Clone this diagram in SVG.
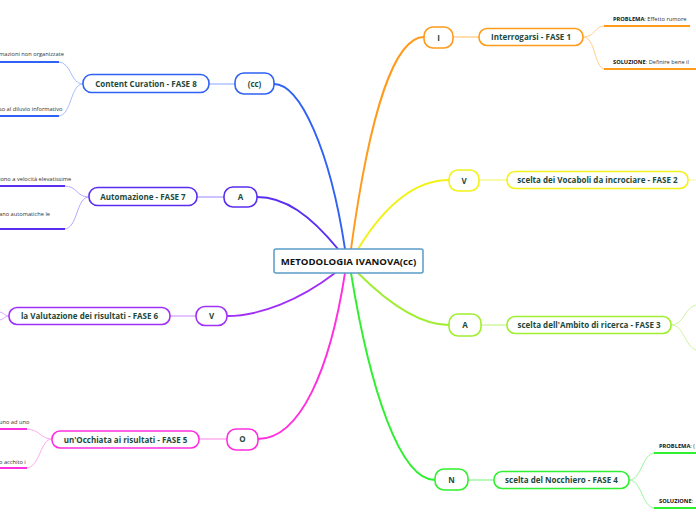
<svg xmlns="http://www.w3.org/2000/svg" width="696" height="520" viewBox="0 0 696 520">
<style>
text{font-family:"Open Sans","Noto Sans","Liberation Sans",sans-serif}
.n{fill:#fff;stroke-width:1.6}
.t{font-size:8px;font-weight:bold;fill:#1d4a3c;text-anchor:middle}
.c{font-size:9.6px;font-weight:bold;fill:#111;text-anchor:middle}
.l{font-size:5.7px;fill:#333}
.lb{font-weight:bold;fill:#111}
.m{fill:none;stroke-width:1.9}
.s{fill:none;stroke-width:1.4}
.f{fill:none;stroke-width:1}
.u{fill:none;stroke-width:2}
</style>
<rect width="696" height="520" fill="#fff"/>
<g id="connectors">
<path class="m" stroke="#2f62f5" d="M345,249 C330,150 300,84 274,84"/>
<path class="m" stroke="#ff9a1a" d="M351,249 C370,110 395,37 424,37"/>
<path class="m" stroke="#f2f21a" d="M358,249 C385,205 415,180 449,180"/>
<path class="m" stroke="#5a2ef0" d="M338,249 C310,215 285,197 257,197"/>
<path class="m" stroke="#a030f8" d="M335,273 C300,300 260,316 227,316"/>
<path class="m" stroke="#ff2ee0" d="M345,273 C330,370 300,439 258,439"/>
<path class="m" stroke="#2ef02e" d="M351,273 C370,390 400,480 435,480"/>
<path class="m" stroke="#a0ee30" d="M358,273 C390,305 420,325 449,325"/>
<line class="s" stroke="#a8c0ff" x1="209" y1="84" x2="235" y2="84"/>
<line class="s" stroke="#b8a8ff" x1="197" y1="197" x2="224" y2="197"/>
<line class="s" stroke="#dba8ff" x1="170" y1="316" x2="196" y2="316"/>
<line class="s" stroke="#ffa8f0" x1="199" y1="439" x2="227" y2="439"/>
<line class="s" stroke="#ffcf88" x1="453" y1="37" x2="479" y2="37"/>
<line class="s" stroke="#f8f888" x1="479" y1="180" x2="507" y2="180"/>
<line class="s" stroke="#cdf59a" x1="481" y1="325" x2="507" y2="325"/>
<line class="s" stroke="#9af59a" x1="468" y1="480" x2="494" y2="480"/>
<path class="f" stroke="#a8c0ff" d="M83,84 C70,84 72,62 58,62 M83,84 C70,84 72,116 58,116"/>
<path class="f" stroke="#b8a8ff" d="M89,197 C76,197 78,186 64,186 M89,197 C76,197 78,229 64,229"/>
<path class="f" stroke="#dba8ff" d="M9,316 C5,316 4,313 0,312 M9,316 C5,316 4,319 0,320"/>
<path class="f" stroke="#ffa8f0" d="M52,439 C40,439 40,429 26,429 M52,439 C40,439 40,468 26,468"/>
<path class="f" stroke="#ffcf88" d="M583,37 C596,37 594,26 605,26 M583,37 C596,37 594,69 605,69"/>
<path class="f" stroke="#f8f888" d="M688,180 L696,180"/>
<path class="f" stroke="#cdf59a" d="M671,325 C684,325 684,308 696,305 M671,325 C684,325 684,345 696,350"/>
<path class="f" stroke="#9af59a" d="M629,480 C642,480 642,453 655,453 M629,480 C642,480 642,508 655,508"/>
<line class="u" stroke="#2f62f5" x1="0" y1="62" x2="59" y2="62"/>
<line class="u" stroke="#2f62f5" x1="0" y1="116" x2="59" y2="116"/>
<line class="u" stroke="#5a2ef0" x1="0" y1="186" x2="65" y2="186"/>
<line class="u" stroke="#5a2ef0" x1="0" y1="229" x2="65" y2="229"/>
<line class="u" stroke="#ff2ee0" x1="0" y1="429" x2="27" y2="429"/>
<line class="u" stroke="#ff2ee0" x1="0" y1="468" x2="27" y2="468"/>
<line class="u" stroke="#ff9a1a" x1="604" y1="26" x2="690" y2="26"/>
<line class="u" stroke="#ff9a1a" x1="604" y1="69" x2="696" y2="69"/>
<line class="u" stroke="#2ef02e" x1="654" y1="453" x2="696" y2="453"/>
<line class="u" stroke="#2ef02e" x1="654" y1="508" x2="696" y2="508"/>
</g>
<g id="center">
<rect x="274" y="249" width="149" height="24" rx="2" fill="#fff" stroke="#5a9cc8" stroke-width="1.5"/>
<text class="c" x="348.5" y="264.5">METODOLOGIA IVANOVA(cc)</text>
</g>
<g id="n-cc"><rect class="n" stroke="#2f62f5" x="235" y="73" width="39" height="21" rx="9"/><text class="t" x="254.5" y="86.5">(cc)</text></g>
<g id="n-fase8"><rect class="n" stroke="#2f62f5" x="83" y="74.5" width="126" height="18" rx="8.5"/><text class="t" x="146" y="86.5">Content Curation - FASE 8</text></g>
<g id="n-a7"><rect class="n" stroke="#5a2ef0" x="224" y="187" width="33" height="20" rx="9"/><text class="t" x="240.5" y="200">A</text></g>
<g id="n-fase7"><rect class="n" stroke="#5a2ef0" x="89" y="187.5" width="108" height="18" rx="8.5"/><text class="t" x="143" y="199.5">Automazione - FASE 7</text></g>
<g id="n-v6"><rect class="n" stroke="#a030f8" x="196" y="306.5" width="31" height="19" rx="9"/><text class="t" x="211.5" y="319">V</text></g>
<g id="n-fase6"><rect class="n" stroke="#a030f8" x="9" y="307.5" width="161" height="17" rx="8"/><text class="t" x="89.5" y="319">la Valutazione dei risultati - FASE 6</text></g>
<g id="n-o5"><rect class="n" stroke="#ff2ee0" x="227" y="429" width="31" height="21" rx="9"/><text class="t" x="242.5" y="442">O</text></g>
<g id="n-fase5"><rect class="n" stroke="#ff2ee0" x="52" y="431" width="147" height="17" rx="8"/><text class="t" x="125.5" y="442.5">un'Occhiata ai risultati - FASE 5</text></g>
<g id="n-i1"><rect class="n" stroke="#ff9a1a" x="424" y="27" width="29" height="21" rx="9"/><text class="t" x="438.5" y="40.5">I</text></g>
<g id="n-fase1"><rect class="n" stroke="#ff9a1a" x="479" y="28.5" width="104" height="17" rx="8"/><text class="t" x="531" y="40">Interrogarsi - FASE 1</text></g>
<g id="n-v2"><rect class="n" stroke="#f2f21a" x="449" y="170" width="30" height="21" rx="9"/><text class="t" x="464" y="183.5">V</text></g>
<g id="n-fase2"><rect class="n" stroke="#f2f21a" x="507" y="171.5" width="181" height="17" rx="8"/><text class="t" x="597.5" y="183">scelta dei Vocaboli da incrociare - FASE 2</text></g>
<g id="n-a3"><rect class="n" stroke="#a0ee30" x="449" y="314" width="32" height="22" rx="9"/><text class="t" x="465" y="328">A</text></g>
<g id="n-fase3"><rect class="n" stroke="#a0ee30" x="507" y="316.5" width="164" height="17" rx="8"/><text class="t" x="589" y="328">scelta dell'Ambito di ricerca - FASE 3</text></g>
<g id="n-n4"><rect class="n" stroke="#2ef02e" x="435" y="469" width="33" height="21" rx="9"/><text class="t" x="451.5" y="482.5">N</text></g>
<g id="n-fase4"><rect class="n" stroke="#2ef02e" x="494" y="471.5" width="135" height="17" rx="8"/><text class="t" x="561.5" y="483">scelta del Nocchiero - FASE 4</text></g>
<g id="leaves">
<text class="l" x="-1" y="56">mazioni non organizzate</text>
<text class="l" x="-1" y="110.5">so al diluvio informativo</text>
<text class="l" x="-1" y="180.5">iono a velocità elevatissime</text>
<text class="l" x="-1" y="215.5">ano automatiche le</text>
<text class="l" x="-1" y="424">uno ad uno</text>
<text class="l" x="-1" y="463.5">o acchito i</text>
<text class="l" x="613" y="21"><tspan class="lb">PROBLEMA</tspan>: Effetto rumore</text>
<text class="l" x="613" y="64"><tspan class="lb">SOLUZIONE</tspan>: Definire bene il</text>
<text class="l" x="659" y="448"><tspan class="lb">PROBLEMA</tspan>: (</text>
<text class="l" x="659" y="503"><tspan class="lb">SOLUZIONE</tspan>:</text>
</g>
</svg>
